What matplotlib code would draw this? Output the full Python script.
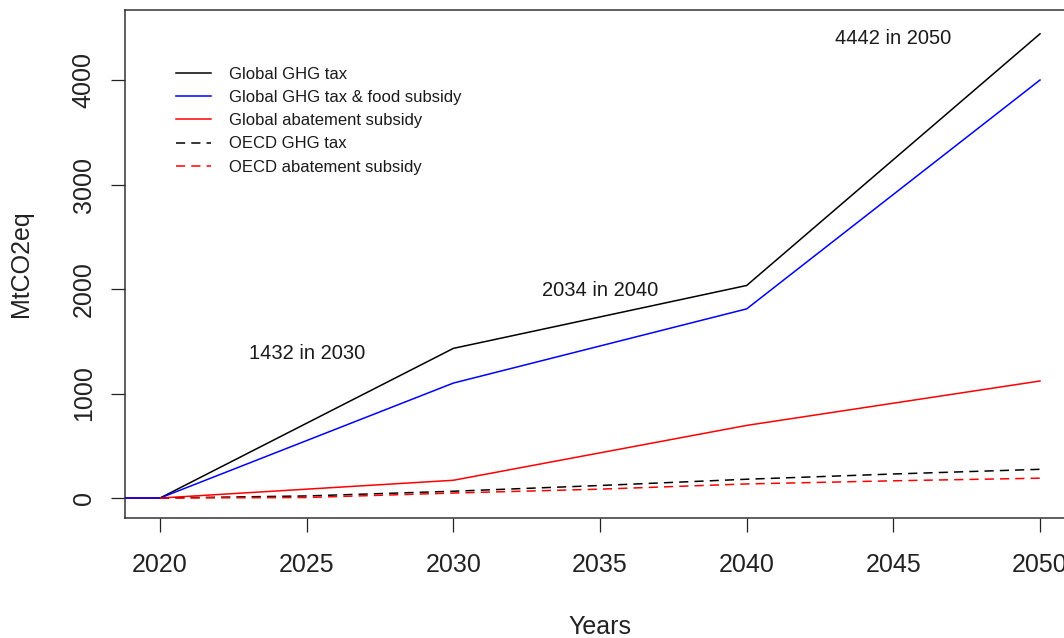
import matplotlib
matplotlib.use("Agg")
import matplotlib.pyplot as plt

# ---- data ----
years_global = [2015, 2020, 2030, 2040, 2050]
global_ghg_tax = [0, 0, 1432, 2034, 4442]
global_ghg_tax_food = [0, 0, 1100, 1810, 4000]
global_abatement = [0, 0, 170, 695, 1120]

years_oecd = [2020, 2025, 2030, 2035, 2040, 2045, 2050]
oecd_ghg_tax = [0, 20, 65, 120, 180, 230, 275]
oecd_abatement = [0, 5, 48, 85, 135, 165, 190]

labels = ["Global GHG tax", "Global GHG tax & food subsidy",
          "Global abatement subsidy", "OECD GHG tax", "OECD abatement subsidy"]

annot_x = [2025, 2035, 2045]
annot_y = [1432, 2034, 4442]
annot_text = ["1432 in 2030", "2034 in 2040", "4442 in 2050"]

xticks = [2020, 2025, 2030, 2035, 2040, 2045, 2050]
yticks = [0, 1000, 2000, 3000, 4000]

# ---- figure ----
plt.rcParams['font.family'] = ['Liberation Sans', 'DejaVu Sans']
W, H = 1064, 638
fig = plt.figure(figsize=(W / 100, H / 100), dpi=100)
left_px, right_px, top_px, bottom_px = 124.8, 1075.2, 10, 518
ax = fig.add_axes([left_px / W, 1 - bottom_px / H,
                   (right_px - left_px) / W, (bottom_px - top_px) / H])

lw = 1.1
ax.plot(years_global, global_ghg_tax, color='black', lw=lw, label=labels[0], zorder=2)
ax.plot(years_global, global_ghg_tax_food, color='#0000FF', lw=lw, label=labels[1], zorder=4)
ax.plot(years_global, global_abatement, color='#FF0000', lw=lw, label=labels[2], zorder=3)
ax.plot(years_oecd, oecd_ghg_tax, color='black', lw=lw, ls=(0, (6, 4)), label=labels[3], zorder=5)
ax.plot(years_oecd, oecd_abatement, color='#FF0000', lw=lw, ls=(0, (6, 4)), label=labels[4], zorder=5)

for x, y, t in zip(annot_x, annot_y, annot_text):
    ax.annotate(t, xy=(x, y), xytext=(0, -3.6), textcoords='offset points',
                ha='center', va='center', fontsize=14.5, color='#1a1a1a')

ax.set_xlim(2018.8, 2051.2)
ax.set_ylim(-191, 4670)
ax.set_xticks(xticks)
ax.set_yticks(yticks)
ax.tick_params(axis='both', direction='out', length=10, width=0.9,
               labelsize=18, colors='#222222')
ax.tick_params(axis='x', pad=15)
ax.tick_params(axis='y', pad=11)
for lab in ax.get_yticklabels():
    lab.set_rotation(90)
    lab.set_va('center')
for sp in ax.spines.values():
    sp.set_linewidth(1.1)
    sp.set_color('#333333')

ax.set_xlabel("Years", fontsize=18, color='#222222')
ax.xaxis.set_label_coords(0.5, -0.191)
ax.set_ylabel("MtCO2eq", fontsize=18, color='#222222')
ax.yaxis.set_label_coords(-0.097, 0.5)

leg = ax.legend(loc='upper left', bbox_to_anchor=(0.054, 0.888), frameon=False,
                fontsize=12, handlelength=2.1, handletextpad=1.05,
                labelspacing=0.49, borderpad=0, borderaxespad=0)
for t in leg.get_texts():
    t.set_color('#1a1a1a')

fig.savefig("out.png", dpi=100)
